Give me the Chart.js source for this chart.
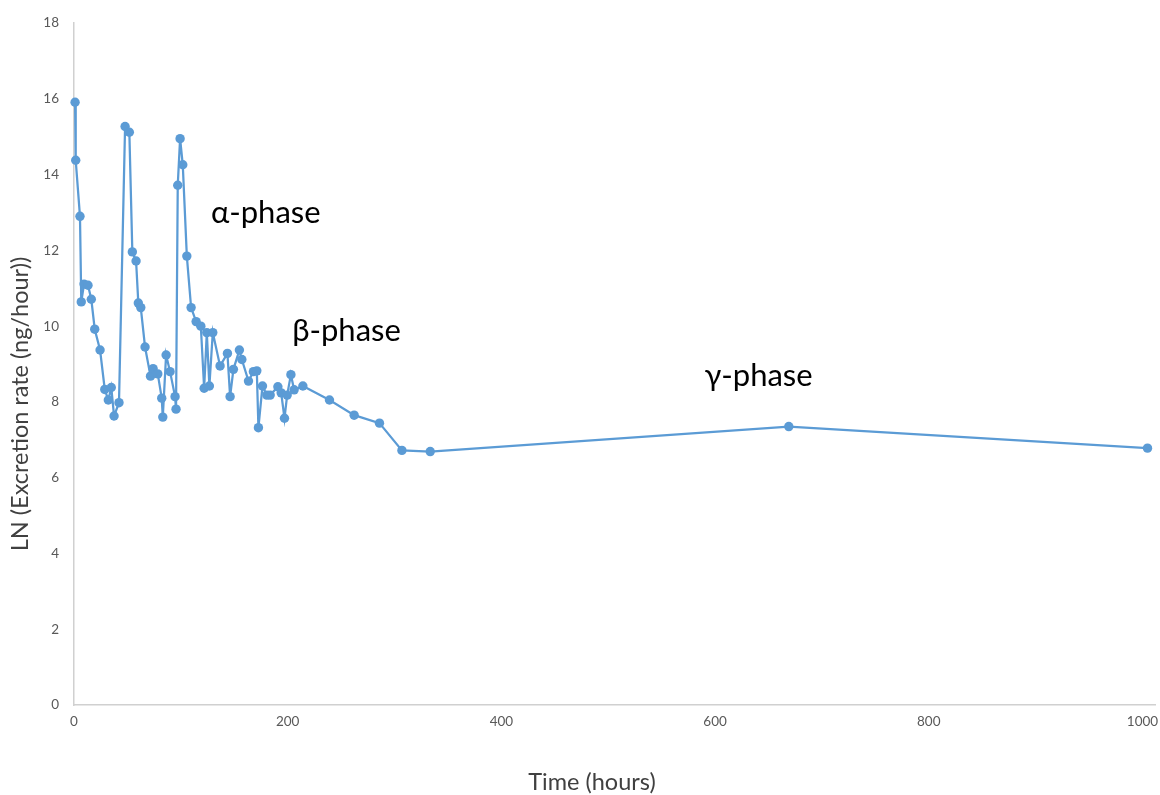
<!DOCTYPE html>
<html>
<head>
<meta charset="utf-8">
<script src="https://cdn.jsdelivr.net/npm/chart.js@4/dist/chart.umd.min.js"></script>
<style>
  html, body { margin: 0; padding: 0; background: #ffffff; }
  #wrap { width: 1160px; height: 795px; }
</style>
</head>
<body>
<div id="wrap"><canvas id="c" width="1160" height="795"></canvas></div>
<script>
// Sampling times (hours)
const times = [
  1, 1.6, 5.6, 6.8, 9.4, 13.1, 16.2, 19.4, 24.4, 28.8,
  32.1, 34.9, 37.5, 42.1, 47.8, 51.8, 54.6, 58.1, 60.2, 62.5,
  66.5, 71.6, 74.0, 78.4, 82.1, 83.1, 86.2, 89.9, 94.6, 95.5,
  97.1, 99.3, 101.8, 105.6, 109.6, 114.3, 118.7, 121.8, 124.3, 126.7,
  129.9, 136.7, 143.6, 146.1, 149.2, 154.8, 157.1, 163.3, 167.9, 171.1,
  172.6, 176.4, 180.5, 183.6, 190.8, 193.9, 197.0, 199.5, 203.0, 206.0,
  214.2, 239.1, 262.2, 285.9, 306.9, 333.4, 669.0, 1004.7
];

// LN of excretion rate (ng/hour) at each time
const lnRates = [
  15.91, 14.38, 12.90, 10.64, 11.11, 11.08, 10.71, 9.92, 9.37, 8.33,
  8.05, 8.38, 7.63, 7.98, 15.27, 15.12, 11.96, 11.72, 10.61, 10.49,
  9.45, 8.68, 8.88, 8.74, 8.10, 7.60, 9.24, 8.80, 8.14, 7.81,
  13.72, 14.95, 14.26, 11.85, 10.49, 10.12, 10.00, 8.36, 9.83, 8.42,
  9.83, 8.95, 9.28, 8.14, 8.86, 9.37, 9.12, 8.55, 8.80, 8.82,
  7.32, 8.42, 8.18, 8.18, 8.40, 8.24, 7.57, 8.18, 8.72, 8.32,
  8.42, 8.05, 7.65, 7.44, 6.72, 6.69, 7.35, 6.78
];

// Axis tick values
const xTickValues = [0, 200, 400, 600, 800, 1000];
const yTickValues = [0, 2, 4, 6, 8, 10, 12, 14, 16, 18];

// Axis titles
const xTitle = 'Time (hours)';
const yTitle = 'LN (Excretion rate (ng/hour))';

// Phase annotations (text and anchor in data units: left edge, vertical middle)
const phaseLabels = ['α-phase', 'β-phase', 'γ-phase'];
const phaseX = [128.3, 204.2, 590];
const phaseY = [13.0, 9.87, 8.68];

const FONT = 'Lato, "Open Sans", "Noto Sans", sans-serif';

// Draws the phase annotations inside the plot
const phaseLabelPlugin = {
  id: 'phaseLabels',
  afterDatasetsDraw(chart) {
    const {ctx, scales: {x, y}} = chart;
    ctx.save();
    ctx.font = '31px ' + FONT;
    ctx.fillStyle = '#000000';
    ctx.textAlign = 'left';
    ctx.textBaseline = 'middle';
    phaseLabels.forEach((t, i) => {
      ctx.fillText(t, x.getPixelForValue(phaseX[i]), y.getPixelForValue(phaseY[i]));
    });
    ctx.restore();
  }
};

// Axis titles, placed a little off the plot-area centre
const axisTitlePlugin = {
  id: 'axisTitles',
  afterDraw(chart) {
    const {ctx} = chart;
    ctx.save();
    ctx.font = '23.5px ' + FONT;
    ctx.fillStyle = '#404040';
    ctx.textAlign = 'center';
    ctx.textBaseline = 'middle';
    ctx.fillText(xTitle, 592, 782);
    ctx.translate(20, 404);
    ctx.rotate(-Math.PI / 2);
    ctx.fillText(yTitle, 0, 0);
    ctx.restore();
  }
};

const points = times.map((t, i) => ({x: t, y: lnRates[i]}));

new Chart(document.getElementById('c'), {
  type: 'scatter',
  data: {
    datasets: [{
      data: points,
      showLine: true,
      borderColor: '#5b9bd5',
      backgroundColor: '#5b9bd5',
      borderWidth: 2.25,
      pointRadius: 4.7,
      pointBorderWidth: 0,
      pointBackgroundColor: '#5b9bd5',
      tension: 0,
      clip: false
    }]
  },
  options: {
    responsive: false,
    animation: false,
    devicePixelRatio: 1,
    layout: { padding: { left: 0, right: 0, top: 22, bottom: 0 } },
    plugins: {
      legend: { display: false },
      tooltip: { enabled: false }
    },
    scales: {
      x: {
        type: 'linear',
        min: 0,
        max: 1012,
        afterBuildTicks(scale) { scale.ticks = xTickValues.map(v => ({value: v})); },
        afterFit(scale) {
          scale.height = 90;
          scale.paddingLeft = 0;
          scale.paddingRight = 0;
        },
        grid: { display: false, drawTicks: false },
        border: { display: true, color: '#d0d0d0', width: 1.5 },
        ticks: {
          padding: 9,
          color: '#595959',
          font: { family: FONT, size: 13.5 },
          maxRotation: 0,
          autoSkip: false,
          callback: v => String(v)
        },
        title: { display: false }
      },
      y: {
        type: 'linear',
        min: 0,
        max: 18,
        afterBuildTicks(scale) { scale.ticks = yTickValues.map(v => ({value: v})); },
        afterFit(scale) { scale.width = 74; },
        grid: { display: false, drawTicks: false },
        border: { display: true, color: '#d0d0d0', width: 1.5 },
        ticks: {
          padding: 15,
          color: '#595959',
          font: { family: FONT, size: 13.5 },
          callback: v => String(v)
        },
        title: { display: false }
      }
    }
  },
  plugins: [phaseLabelPlugin, axisTitlePlugin]
});
</script>
</body>
</html>
